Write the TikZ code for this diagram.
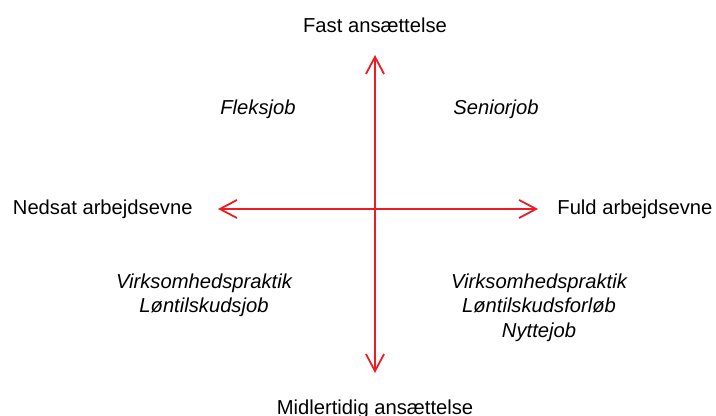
\documentclass[tikz,border=0pt]{standalone}
\usepackage{fontspec}
\setmainfont{Liberation Sans}
\usetikzlibrary{arrows.meta,positioning}
\definecolor{axisred}{RGB}{237,28,36}

\begin{document}
\begin{tikzpicture}[x=0.5pt,y=-0.5pt]
    \tikzstyle{axis}=[{Straight Barb[length=8.5pt,width=9pt]}-{Straight Barb[length=8.5pt,width=9pt]}, draw=axisred, line width=0.9pt]
    \tikzstyle{pole}=[inner sep=0pt, font=\fontsize{10.1}{12.2}\selectfont]
    \tikzstyle{scheme}=[inner sep=0pt, font=\fontsize{10.1}{12.2}\selectfont\itshape, align=center]
      \useasboundingbox (0,0) rectangle (716,416);
      \coordinate (top) at (375,55);
      \coordinate (bottom) at (375,373);
      \coordinate (left) at (218,209);
      \coordinate (right) at (538,209);
      \node[pole] (fast) [above=11pt of top] {Fast ansættelse};
      \node[pole] (midl) [below=13pt of bottom] {Midlertidig ansættelse};
      \node[pole] (nedsat) [left=12.5pt of left] {Nedsat arbejdsevne};
      \node[pole] (fuld) [right=9.5pt of right] {Fuld arbejdsevne};
      \node[scheme, anchor=base] (fleks) at (258,115) {Fleksjob};
      \node[scheme, anchor=base] (senior) at (496,115) {Seniorjob};
      \node[scheme, anchor=north] (nedsatmidl) at (204,273.5) {Virksomhedspraktik\\Løntilskudsjob};
      \node[scheme, anchor=north] (fuldmidl) at (539,273.5) {Virksomhedspraktik\\Løntilskudsforløb\\Nyttejob};
      \path
        (bottom) edge [axis] (top)
        (left) edge [axis] (right);
    \end{tikzpicture}
\end{document}
